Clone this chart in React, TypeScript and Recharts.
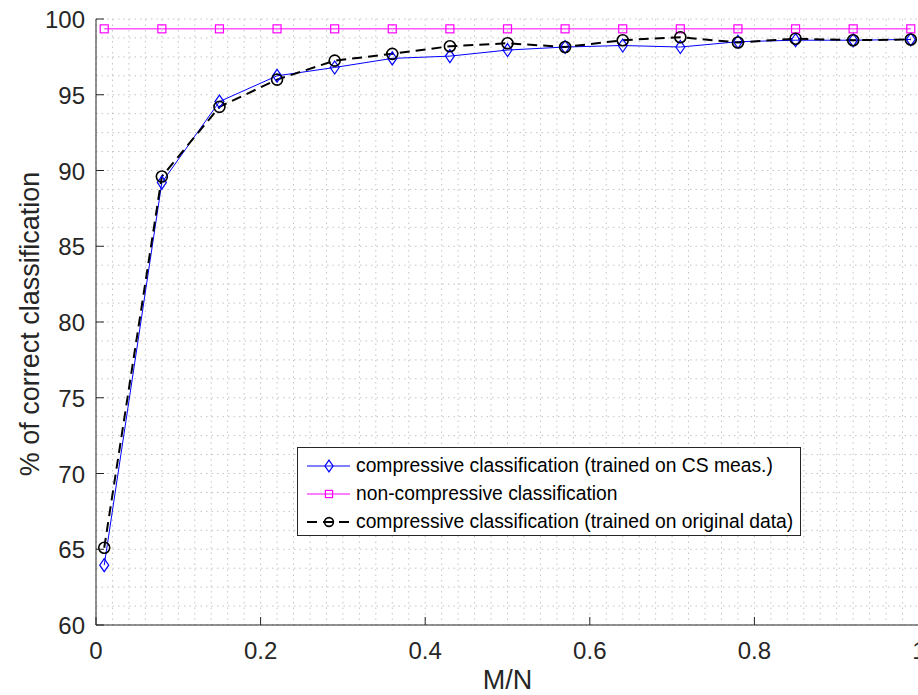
import { LineChart, Line, XAxis, YAxis, CartesianGrid } from "recharts";

// M/N ratios and % of correct classification
const MN = [0.01, 0.08, 0.15, 0.22, 0.29, 0.36, 0.43, 0.5, 0.57, 0.64, 0.71, 0.78, 0.85, 0.92, 0.99];
const CS_TRAINED = [63.95, 89.2, 94.55, 96.25, 96.8, 97.4, 97.55, 97.95, 98.15, 98.25, 98.15, 98.5, 98.6, 98.6, 98.65];
const NON_COMPRESSIVE = [99.35, 99.35, 99.35, 99.35, 99.35, 99.35, 99.35, 99.35, 99.35, 99.35, 99.35, 99.35, 99.35, 99.35, 99.35];
const ORIG_TRAINED = [65.1, 89.6, 94.2, 96.0, 97.25, 97.7, 98.2, 98.4, 98.15, 98.6, 98.8, 98.45, 98.7, 98.6, 98.65];

const SERIES_NAMES = [
  "compressive classification (trained on CS meas.)",
  "non-compressive classification",
  "compressive classification (trained on original data)",
];

const X_TICKS = [0, 0.2, 0.4, 0.6, 0.8, 1];
const Y_TICKS = [60, 65, 70, 75, 80, 85, 90, 95, 100];
// minor grid: 0.02 steps on x, 1.25 steps on y
const X_MINOR = Array.from({ length: 51 }, (_, i) => i / 50);
const Y_MINOR = Array.from({ length: 33 }, (_, i) => 60 + i * 1.25);

const FONT = '"Liberation Sans", Arial, Helvetica, sans-serif';
const INK = "#262626";
const BLUE = "#0000ff";
const MAGENTA = "#ff00ff";

const rows = MN.map((mn, i) => ({
  mn,
  cs: CS_TRAINED[i],
  full: NON_COMPRESSIVE[i],
  orig: ORIG_TRAINED[i],
}));

function Diamond({ cx, cy, s = 1 }: { cx: number; cy: number; s?: number }) {
  const w = 4.5 * s;
  const h = 6.5 * s;
  return (
    <path
      d={`M${cx},${cy - h} L${cx + w},${cy} L${cx},${cy + h} L${cx - w},${cy} Z`}
      fill="none"
      stroke={BLUE}
      strokeWidth={1.2}
    />
  );
}

function Square({ cx, cy, s = 1 }: { cx: number; cy: number; s?: number }) {
  const h = 4 * s;
  return <rect x={cx - h} y={cy - h} width={2 * h} height={2 * h} fill="none" stroke={MAGENTA} strokeWidth={1.2} />;
}

function Circle({ cx, cy, s = 1 }: { cx: number; cy: number; s?: number }) {
  return <circle cx={cx} cy={cy} r={5.5 * s} fill="none" stroke="#000" strokeWidth={1.6} />;
}

const BottomTick = ({ x, y, payload }: any) => (
  <g>
    <line x1={x} x2={x} y1={y} y2={y - 8} stroke={INK} />
    <text x={x} y={y + 34} textAnchor="middle" fontSize={24} fill={INK} fontFamily={FONT}>
      {String(payload.value)}
    </text>
  </g>
);

const TopTick = ({ x, y }: any) => <line x1={x} x2={x} y1={y} y2={y + 8} stroke={INK} />;

const LeftTick = ({ x, y, payload }: any) => (
  <g>
    <line x1={x} x2={x + 8} y1={y} y2={y} stroke={INK} />
    <text x={x - 11} y={y + 9} textAnchor="end" fontSize={24} fill={INK} fontFamily={FONT}>
      {String(payload.value)}
    </text>
  </g>
);

const RightTick = ({ x, y }: any) => <line x1={x} x2={x - 8} y1={y} y2={y} stroke={INK} />;

function LegendBox() {
  const markers = [
    <Diamond cx={31} cy={14} s={0.9} />,
    <Square cx={31} cy={14} s={0.9} />,
    <Circle cx={31} cy={14} s={0.8} />,
  ];
  const strokes = [
    { stroke: BLUE, width: 1, dash: undefined },
    { stroke: MAGENTA, width: 1, dash: undefined },
    { stroke: "#000", width: 2, dash: "10 6" },
  ];
  return (
    <div
      style={{
        position: "absolute",
        left: 297,
        top: 447,
        width: 502,
        height: 87,
        border: `1px solid ${INK}`,
        background: "#fff",
        fontFamily: FONT,
        fontSize: 19.3,
        color: "#000",
      }}
    >
      {SERIES_NAMES.map((name, i) => (
        <div
          key={name}
          style={{ position: "absolute", left: 0, top: 4 + i * 28, height: 28, display: "flex", alignItems: "center", whiteSpace: "nowrap" }}
        >
          <svg width={58} height={28} style={{ display: "block" }}>
            <line
              x1={9}
              x2={52}
              y1={14}
              y2={14}
              stroke={strokes[i].stroke}
              strokeWidth={strokes[i].width}
              strokeDasharray={strokes[i].dash}
            />
            {markers[i]}
          </svg>
          <span>{name}</span>
        </div>
      ))}
    </div>
  );
}

export default function App() {
  return (
    <div
      style={{
        position: "absolute",
        left: 0,
        top: 0,
        width: 918,
        height: 695,
        overflow: "hidden",
        background: "#fff",
        fontFamily: FONT,
      }}
    >
      <LineChart width={940} height={695} data={rows} margin={{ top: 19, right: 21, bottom: 0, left: 0 }}>
        <CartesianGrid
          stroke="#c4c4c4"
          strokeDasharray="1.5 4"
          horizontalValues={Y_MINOR}
          verticalValues={X_MINOR}
        />
        <XAxis
          dataKey="mn"
          type="number"
          domain={[0, 1]}
          ticks={X_TICKS}
          interval={0}
          height={70}
          tickSize={0}
          tickMargin={0}
          tick={BottomTick}
          axisLine={{ stroke: INK }}
          label={(props: any) => {
            const vb = props.viewBox ?? { x: 96, width: 823 };
            return (
              <text x={vb.x + vb.width / 2} y={689} textAnchor="middle" fontSize={27} fill={INK} fontFamily={FONT}>
                M/N
              </text>
            );
          }}
        />
        <XAxis
          xAxisId="top"
          orientation="top"
          type="number"
          domain={[0, 1]}
          ticks={X_TICKS}
          interval={0}
          height={0}
          tickSize={0}
          tickMargin={0}
          tick={TopTick}
          axisLine={{ stroke: INK }}
        />
        <YAxis
          type="number"
          domain={[60, 100]}
          ticks={Y_TICKS}
          interval={0}
          width={96}
          tickSize={0}
          tickMargin={0}
          tick={LeftTick}
          axisLine={{ stroke: INK }}
          label={(props: any) => {
            const vb = props.viewBox ?? { y: 19, height: 606 };
            const cy = vb.y + vb.height / 2 + 2;
            return (
              <text
                x={39}
                y={cy}
                transform={`rotate(-90, 39, ${cy})`}
                textAnchor="middle"
                fontSize={27}
                fill={INK}
                fontFamily={FONT}
              >
                % of correct classification
              </text>
            );
          }}
        />
        <YAxis
          yAxisId="right"
          orientation="right"
          type="number"
          domain={[60, 100]}
          ticks={Y_TICKS}
          interval={0}
          width={0}
          tickSize={0}
          tickMargin={0}
          tick={RightTick}
          axisLine={{ stroke: INK }}
        />
        <Line
          dataKey="cs"
          name={SERIES_NAMES[0]}
          type="linear"
          stroke={BLUE}
          strokeWidth={1}
          isAnimationActive={false}
          dot={(p: any) => <Diamond key={`cs-${p.index}`} cx={p.cx} cy={p.cy} />}
        />
        <Line
          dataKey="full"
          name={SERIES_NAMES[1]}
          type="linear"
          stroke={MAGENTA}
          strokeWidth={1}
          isAnimationActive={false}
          dot={(p: any) => <Square key={`full-${p.index}`} cx={p.cx} cy={p.cy} />}
        />
        <Line
          dataKey="orig"
          name={SERIES_NAMES[2]}
          type="linear"
          stroke="#000"
          strokeWidth={2}
          strokeDasharray="10 6"
          isAnimationActive={false}
          dot={(p: any) => <Circle key={`orig-${p.index}`} cx={p.cx} cy={p.cy} />}
        />
      </LineChart>
      <LegendBox />
    </div>
  );
}
